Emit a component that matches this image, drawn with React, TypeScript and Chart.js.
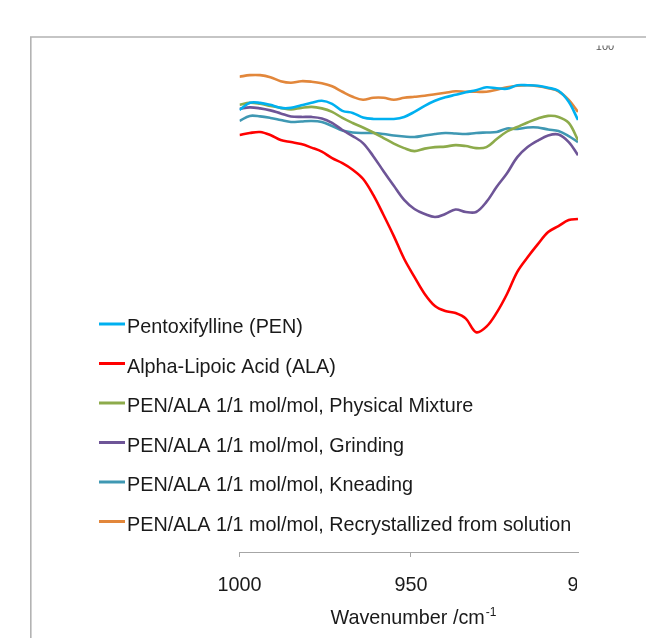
import React, { useEffect, useRef } from "react";
import { Chart, registerables } from "chart.js";

Chart.register(...registerables);

const wavenumbers = [1000, 997, 994, 991, 988, 985, 982, 979, 976, 973, 970, 967, 964, 961, 958, 955, 952, 949, 946, 943, 940, 937, 934, 931, 928, 925, 922, 919, 916, 913, 910, 907, 904, 901.3];

const penValues = [87.5, 88.9, 88.9, 88.5, 87.9, 87.9, 88.4, 88.9, 89.3, 88.7, 87.3, 86.9, 86.0, 85.7, 85.7, 85.7, 86.1, 87.1, 88.3, 89.3, 90.0, 90.5, 91.0, 91.4, 92.0, 91.8, 91.7, 92.4, 92.4, 92.3, 91.9, 91.3, 89.1, 85.5];
const alaValues = [82.5, 82.9, 83.1, 82.5, 81.5, 81.1, 80.7, 80.0, 79.2, 77.9, 76.9, 75.6, 73.8, 70.6, 66.6, 62.4, 57.9, 54.3, 50.9, 48.5, 47.5, 47.1, 46.0, 43.3, 44.4, 47.2, 50.9, 55.3, 58.2, 60.8, 63.2, 64.4, 65.6, 65.8];
const physicalValues = [88.5, 88.9, 88.7, 88.3, 87.9, 87.6, 87.9, 88.1, 87.8, 87.1, 85.9, 84.9, 84.0, 83.0, 81.9, 80.8, 79.9, 79.3, 79.8, 80.1, 80.2, 80.5, 80.3, 79.9, 80.1, 81.7, 83.2, 84.1, 85.0, 85.8, 86.3, 86.1, 84.9, 81.5];
const grindingValues = [87.7, 88.0, 87.8, 87.4, 86.8, 86.2, 86.1, 86.1, 85.8, 84.9, 83.5, 82.3, 80.9, 78.3, 75.3, 72.4, 69.6, 67.8, 66.8, 66.2, 66.8, 67.7, 67.2, 67.2, 69.2, 72.2, 74.9, 78.1, 80.1, 81.4, 82.4, 82.6, 81.1, 78.5];
const kneadingValues = [85.3, 86.3, 86.2, 85.9, 85.5, 85.1, 85.2, 85.3, 85.1, 84.3, 83.4, 83.0, 82.9, 82.9, 82.7, 82.4, 82.2, 82.1, 82.4, 82.7, 82.9, 82.8, 82.7, 82.9, 83.0, 83.1, 83.8, 83.7, 84.0, 84.0, 83.6, 83.3, 82.3, 81.1];
const recrystValues = [94.1, 94.4, 94.4, 94.0, 93.2, 92.9, 93.2, 93.1, 92.8, 92.2, 91.1, 90.1, 89.5, 89.9, 89.9, 89.5, 89.9, 90.1, 90.3, 90.6, 90.9, 91.2, 91.1, 91.1, 91.1, 91.5, 92.0, 92.3, 92.4, 92.2, 91.8, 91.2, 89.5, 87.1];

const seriesLabels = [
  "Pentoxifylline (PEN)",
  "Alpha-Lipoic Acid (ALA)",
  "PEN/ALA 1/1 mol/mol, Physical Mixture",
  "PEN/ALA 1/1 mol/mol, Grinding",
  "PEN/ALA 1/1 mol/mol, Kneading",
  "PEN/ALA 1/1 mol/mol, Recrystallized from solution",
];
const seriesColors = ["#00B0F0", "#FF0000", "#8DAB4B", "#6E5597", "#3F98B3", "#E2873B"];
const seriesValues = [penValues, alaValues, physicalValues, grindingValues, kneadingValues, recrystValues];

const xTicks = [1000, 950, 900];
const xTitle = "Wavenumber /cm";
const xTitleSup = "-1";
const topLabel = "100";

const FONT = "'Liberation Sans', Arial, sans-serif";
const FS = 19.8;

const overlayPlugin = {
  id: "overlay",
  beforeDraw(chart: any) {
    const ctx = chart.ctx;
    ctx.save();
    ctx.fillStyle = "#ffffff";
    ctx.fillRect(0, 0, chart.width, chart.height);
    ctx.strokeStyle = "#b3b3b3";
    ctx.lineWidth = 1.6;
    ctx.beginPath();
    ctx.moveTo(30.8, chart.height + 5);
    ctx.lineTo(30.8, 37);
    ctx.lineTo(chart.width + 5, 37);
    ctx.stroke();
    ctx.restore();
  },
  afterDraw(chart: any) {
    const ctx = chart.ctx;
    const xs = chart.scales.x;
    const area = chart.chartArea;
    ctx.save();
    ctx.beginPath();
    ctx.rect(0, 0, area.right - 1, chart.height);
    ctx.clip();
    ctx.font = `${FS}px ${FONT}`;
    ctx.fillStyle = "#1a1a1a";
    ctx.textAlign = "center";
    ctx.textBaseline = "alphabetic";
    const px900 = xs.getPixelForValue(xTicks[2]);
    ctx.fillText(String(xTicks[2]), px900 + 1.5, 591);
    ctx.restore();

    ctx.save();
    ctx.beginPath();
    ctx.rect(0, 45.5, chart.width, 20);
    ctx.clip();
    ctx.font = `11px ${FONT}`;
    ctx.fillStyle = "#555";
    ctx.textAlign = "center";
    ctx.textBaseline = "alphabetic";
    ctx.fillText(topLabel, 605, 49.5);
    ctx.restore();

    ctx.save();
    ctx.font = `${FS}px ${FONT}`;
    const mainW = ctx.measureText(xTitle).width;
    ctx.font = `12px ${FONT}`;
    const supW = ctx.measureText(xTitleSup).width;
    const total = mainW + supW + 1;
    const startX = 413.5 - total / 2;
    ctx.fillStyle = "#1a1a1a";
    ctx.textAlign = "left";
    ctx.textBaseline = "alphabetic";
    ctx.font = `${FS}px ${FONT}`;
    ctx.fillText(xTitle, startX, 624.3);
    ctx.font = `12px ${FONT}`;
    ctx.fillText(xTitleSup, startX + mainW + 1, 616);
    ctx.restore();

    ctx.save();
    ctx.font = `${FS}px ${FONT}`;
    ctx.textAlign = "left";
    ctx.textBaseline = "alphabetic";
    chart.data.datasets.forEach((ds: any, i: number) => {
      const y = 324 + i * 39.5;
      ctx.strokeStyle = ds.borderColor;
      ctx.lineWidth = 3;
      ctx.beginPath();
      ctx.moveTo(99, y);
      ctx.lineTo(125, y);
      ctx.stroke();
      ctx.fillStyle = "#1a1a1a";
      ctx.fillText(ds.label, 127, y + 9.3);
    });
    ctx.restore();
  },
};

export default function App() {
  const canvasRef = useRef<HTMLCanvasElement | null>(null);

  useEffect(() => {
    const canvas = canvasRef.current;
    if (!canvas) return;
    const datasets = seriesValues.map((vals, i) => ({
      label: seriesLabels[i],
      data: vals.map((v, j) => ({ x: wavenumbers[j], y: v })),
      borderColor: seriesColors[i],
      backgroundColor: seriesColors[i],
      borderWidth: 2.6,
      pointRadius: 0,
      tension: 0.35,
      fill: false,
    }));
    const chart = new Chart(canvas, {
      type: "line",
      data: { datasets },
      options: {
        animation: false,
        responsive: false,
        devicePixelRatio: 1,
        layout: { padding: { left: 239.5, right: 68, top: 47, bottom: 0 } },
        plugins: {
          legend: { display: false },
          tooltip: { enabled: false },
        },
        scales: {
          x: {
            type: "linear",
            reverse: true,
            min: 901.3,
            max: 1000,
            afterBuildTicks: (scale: any) => {
              scale.ticks = [{ value: xTicks[0] }, { value: xTicks[1] }];
            },
            afterFit: (scale: any) => {
              scale.height = 86;
            },
            ticks: {
              autoSkip: false,
              maxRotation: 0,
              padding: 17,
              color: "#1a1a1a",
              font: { family: FONT, size: FS },
              callback: (v: any) => String(v),
            },
            grid: {
              drawOnChartArea: false,
              drawTicks: true,
              tickLength: 5,
              color: "#a6a6a6",
            },
            border: { display: true, color: "#a6a6a6", width: 1 },
          },
          y: {
            display: false,
            min: -0.4,
            max: 100,
          },
        },
      },
      plugins: [overlayPlugin],
    });
    return () => chart.destroy();
  }, []);

  return (
    <div style={{ position: "absolute", left: 0, top: 0, width: 646, height: 638 }}>
      <canvas ref={canvasRef} width={646} height={638} style={{ display: "block" }} />
    </div>
  );
}
